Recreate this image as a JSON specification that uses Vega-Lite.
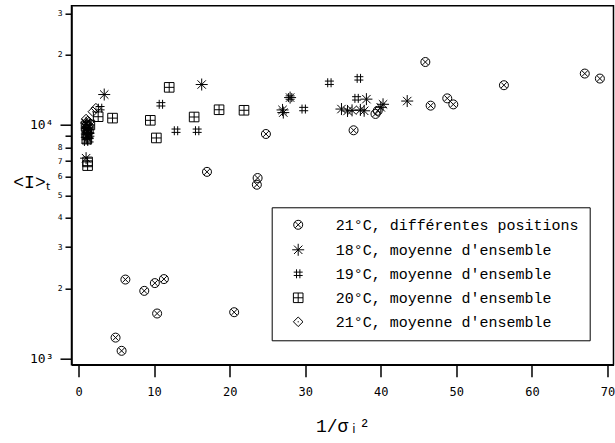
{
  "$schema": "https://vega.github.io/schema/vega-lite/v6.json",
  "width": 542,
  "height": 359,
  "autosize": "none",
  "padding": {"left": 71.5, "top": 5.7, "right": 1, "bottom": 78},
  "background": "white",
  "config": {"view": {"stroke": "black", "strokeWidth": 1.5}},
  "data": {"values": [
    {"x": 6.2, "y": 2180, "s": "21°C, différentes positions"},
    {"x": 8.7, "y": 1950, "s": "21°C, différentes positions"},
    {"x": 10.1, "y": 2105, "s": "21°C, différentes positions"},
    {"x": 11.3, "y": 2190, "s": "21°C, différentes positions"},
    {"x": 10.4, "y": 1560, "s": "21°C, différentes positions"},
    {"x": 20.6, "y": 1580, "s": "21°C, différentes positions"},
    {"x": 4.9, "y": 1230, "s": "21°C, différentes positions"},
    {"x": 5.7, "y": 1080, "s": "21°C, différentes positions"},
    {"x": 17.0, "y": 6300, "s": "21°C, différentes positions"},
    {"x": 23.7, "y": 5930, "s": "21°C, différentes positions"},
    {"x": 23.6, "y": 5550, "s": "21°C, différentes positions"},
    {"x": 24.8, "y": 9150, "s": "21°C, différentes positions"},
    {"x": 36.4, "y": 9490, "s": "21°C, différentes positions"},
    {"x": 39.3, "y": 11150, "s": "21°C, différentes positions"},
    {"x": 39.6, "y": 11500, "s": "21°C, différentes positions"},
    {"x": 45.9, "y": 18600, "s": "21°C, différentes positions"},
    {"x": 46.6, "y": 12100, "s": "21°C, différentes positions"},
    {"x": 48.8, "y": 13000, "s": "21°C, différentes positions"},
    {"x": 49.6, "y": 12250, "s": "21°C, différentes positions"},
    {"x": 56.3, "y": 14800, "s": "21°C, différentes positions"},
    {"x": 67.0, "y": 16600, "s": "21°C, différentes positions"},
    {"x": 69.0, "y": 15800, "s": "21°C, différentes positions"},
    {"x": 1.0, "y": 7210, "s": "18°C, moyenne d'ensemble"},
    {"x": 3.4, "y": 13500, "s": "18°C, moyenne d'ensemble"},
    {"x": 16.3, "y": 14900, "s": "18°C, moyenne d'ensemble"},
    {"x": 27.0, "y": 11600, "s": "18°C, moyenne d'ensemble"},
    {"x": 27.1, "y": 11300, "s": "18°C, moyenne d'ensemble"},
    {"x": 28.0, "y": 13100, "s": "18°C, moyenne d'ensemble"},
    {"x": 34.8, "y": 11700, "s": "18°C, moyenne d'ensemble"},
    {"x": 35.6, "y": 11480, "s": "18°C, moyenne d'ensemble"},
    {"x": 36.2, "y": 11550, "s": "18°C, moyenne d'ensemble"},
    {"x": 37.3, "y": 11600, "s": "18°C, moyenne d'ensemble"},
    {"x": 37.8, "y": 11500, "s": "18°C, moyenne d'ensemble"},
    {"x": 38.1, "y": 12900, "s": "18°C, moyenne d'ensemble"},
    {"x": 40.0, "y": 11900, "s": "18°C, moyenne d'ensemble"},
    {"x": 40.3, "y": 12260, "s": "18°C, moyenne d'ensemble"},
    {"x": 43.5, "y": 12660, "s": "18°C, moyenne d'ensemble"},
    {"x": 1.1, "y": 9700, "s": "18°C, moyenne d'ensemble"},
    {"x": 1.3, "y": 9200, "s": "18°C, moyenne d'ensemble"},
    {"x": 1.0, "y": 10200, "s": "18°C, moyenne d'ensemble"},
    {"x": 1.2, "y": 8800, "s": "18°C, moyenne d'ensemble"},
    {"x": 2.85, "y": 11800, "s": "19°C, moyenne d'ensemble"},
    {"x": 10.9, "y": 12260, "s": "19°C, moyenne d'ensemble"},
    {"x": 12.9, "y": 9450, "s": "19°C, moyenne d'ensemble"},
    {"x": 15.7, "y": 9450, "s": "19°C, moyenne d'ensemble"},
    {"x": 28.0, "y": 13100, "s": "19°C, moyenne d'ensemble"},
    {"x": 29.8, "y": 11700, "s": "19°C, moyenne d'ensemble"},
    {"x": 33.2, "y": 15160, "s": "19°C, moyenne d'ensemble"},
    {"x": 37.1, "y": 15830, "s": "19°C, moyenne d'ensemble"},
    {"x": 36.8, "y": 13000, "s": "19°C, moyenne d'ensemble"},
    {"x": 0.9, "y": 9000, "s": "19°C, moyenne d'ensemble"},
    {"x": 1.2, "y": 8900, "s": "19°C, moyenne d'ensemble"},
    {"x": 1.5, "y": 9100, "s": "19°C, moyenne d'ensemble"},
    {"x": 1.0, "y": 9500, "s": "19°C, moyenne d'ensemble"},
    {"x": 1.4, "y": 9400, "s": "19°C, moyenne d'ensemble"},
    {"x": 1.0, "y": 8500, "s": "19°C, moyenne d'ensemble"},
    {"x": 1.4, "y": 8600, "s": "19°C, moyenne d'ensemble"},
    {"x": 1.2, "y": 6700, "s": "20°C, moyenne d'ensemble"},
    {"x": 1.2, "y": 6950, "s": "20°C, moyenne d'ensemble"},
    {"x": 2.6, "y": 10850, "s": "20°C, moyenne d'ensemble"},
    {"x": 4.5, "y": 10700, "s": "20°C, moyenne d'ensemble"},
    {"x": 9.5, "y": 10470, "s": "20°C, moyenne d'ensemble"},
    {"x": 10.3, "y": 8800, "s": "20°C, moyenne d'ensemble"},
    {"x": 12.0, "y": 14490, "s": "20°C, moyenne d'ensemble"},
    {"x": 15.3, "y": 10820, "s": "20°C, moyenne d'ensemble"},
    {"x": 18.6, "y": 11620, "s": "20°C, moyenne d'ensemble"},
    {"x": 21.9, "y": 11560, "s": "20°C, moyenne d'ensemble"},
    {"x": 1.0, "y": 9900, "s": "20°C, moyenne d'ensemble"},
    {"x": 1.3, "y": 9600, "s": "20°C, moyenne d'ensemble"},
    {"x": 1.1, "y": 9300, "s": "20°C, moyenne d'ensemble"},
    {"x": 1.5, "y": 10000, "s": "20°C, moyenne d'ensemble"},
    {"x": 1.1, "y": 8700, "s": "20°C, moyenne d'ensemble"},
    {"x": 1.9, "y": 11400, "s": "21°C, moyenne d'ensemble"},
    {"x": 2.3, "y": 11800, "s": "21°C, moyenne d'ensemble"},
    {"x": 1.0, "y": 10600, "s": "21°C, moyenne d'ensemble"},
    {"x": 1.2, "y": 10400, "s": "21°C, moyenne d'ensemble"},
    {"x": 1.1, "y": 10100, "s": "21°C, moyenne d'ensemble"},
    {"x": 1.4, "y": 10300, "s": "21°C, moyenne d'ensemble"},
    {"x": 1.3, "y": 9800, "s": "21°C, moyenne d'ensemble"}
  ]},
  "mark": {"type": "point", "filled": false, "strokeWidth": 1, "color": "black", "opacity": 1, "size": 144},
  "encoding": {
    "x": {
      "field": "x", "type": "quantitative",
      "scale": {"domain": [-0.93, 70.8], "nice": false, "zero": false},
      "axis": {
        "title": "1/σᵢ²",
        "values": [0, 10, 20, 30, 40, 50, 60, 70],
        "grid": false,
        "tickSize": 12, "tickWidth": 1.5, "tickColor": "black",
        "domainColor": "black", "domainWidth": 1.5,
        "labelFont": "DejaVu Sans Mono", "labelFontSize": 12, "labelColor": "black",
        "labelPadding": 10, "labelFlush": false,
        "titleFont": "Liberation Mono", "titleFontSize": 18, "titleFontWeight": "normal",
        "titleColor": "black", "titlePadding": 20
      }
    },
    "y": {
      "field": "y", "type": "quantitative",
      "scale": {"type": "log", "domain": [942, 32400], "nice": false},
      "axis": {
        "title": "<I>ₜ",
        "titleAngle": 0, "titleX": -40.5, "titleY": 177,
        "titleAlign": "center", "titleBaseline": "middle",
        "titleFont": "Liberation Mono", "titleFontSize": 18, "titleFontWeight": "normal", "titleColor": "black",
        "values": [1000, 2000, 3000, 4000, 5000, 6000, 7000, 8000, 9000, 10000, 20000, 30000],
        "labelExpr": "datum.value == 10000 ? '10⁴' : datum.value == 1000 ? '10³' : datum.value == 9000 ? '' : (datum.value >= 10000 ? format(datum.value / 10000, 'd') : format(datum.value / 1000, 'd'))",
        "grid": false,
        "domainColor": "black", "domainWidth": 1.5,
        "tickColor": "black", "tickWidth": 1.5,
        "tickSize": {"condition": {"test": "datum.value == 1000 || datum.value == 10000", "value": 11.5}, "value": 6.5},
        "labelFont": "DejaVu Sans Mono", "labelColor": "black",
        "labelFontSize": {"condition": {"test": "datum.value == 1000 || datum.value == 10000", "value": 13}, "value": 8},
        "labelPadding": {"condition": {"test": "datum.value == 1000 || datum.value == 10000", "value": 7}, "value": 3}
      }
    },
    "shape": {
      "field": "s", "type": "nominal",
      "scale": {
        "domain": ["21°C, différentes positions", "18°C, moyenne d'ensemble", "19°C, moyenne d'ensemble", "20°C, moyenne d'ensemble", "21°C, moyenne d'ensemble"],
        "range": [
          "M-0.75,0A0.75,0.75 0 1,0 0.75,0A0.75,0.75 0 1,0 -0.75,0M-0.48,-0.48L0.48,0.48M-0.48,0.48L0.48,-0.48",
          "M-1,0L1,0M0,-1L0,1M-0.7,-0.7L0.7,0.7M-0.7,0.7L0.7,-0.7",
          "M-0.28,-0.75L-0.28,0.75M0.28,-0.75L0.28,0.75M-0.75,-0.28L0.75,-0.28M-0.75,0.28L0.75,0.28",
          "M-0.8,-0.8L0.8,-0.8L0.8,0.8L-0.8,0.8ZM0,-0.8L0,0.8M-0.8,0L0.8,0",
          "M0,-0.8L0.8,0L0,0.8L-0.8,0ZM0,-0.1L0,0.1"
        ]
      },
      "legend": {
        "title": null,
        "orient": "none", "legendX": 200.2, "legendY": 201.6,
        "padding": 10, "symbolOffset": 9,
        "strokeColor": "black", "fillColor": "white",
        "symbolSize": 144, "symbolStrokeColor": "black", "symbolFillColor": "transparent", "symbolStrokeWidth": 1,
        "labelFont": "Liberation Mono", "labelFontSize": 15, "labelColor": "black", "labelOffset": 30,
        "labelLimit": 400, "rowPadding": 8
      }
    }
  }
}
